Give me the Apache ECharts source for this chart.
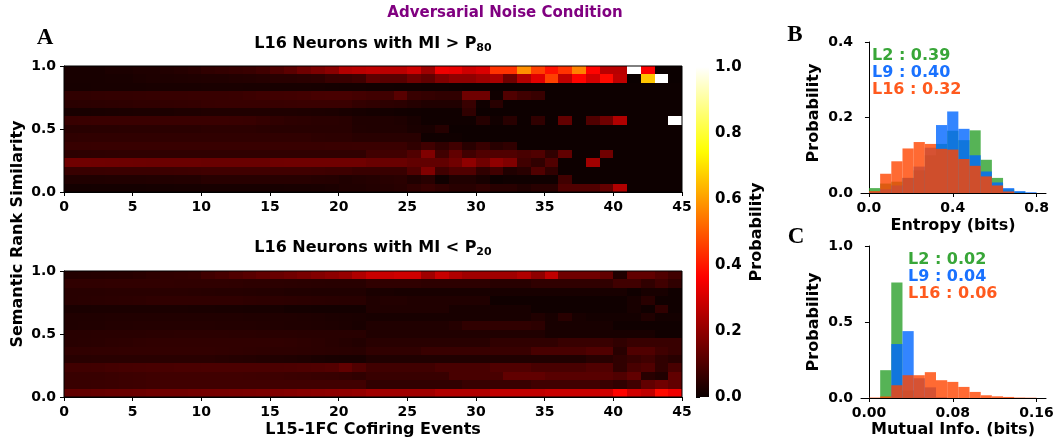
<!DOCTYPE html>
<html><head><meta charset="utf-8">
<script src="https://cdn.jsdelivr.net/npm/echarts@6.0.0/dist/echarts.min.js"></script>
<style>html,body{margin:0;padding:0;background:#fff}#c{width:1058px;height:441px}</style>
</head><body><div id="c"></div>
<script>
// ---------------- DATA ----------------
// Heatmap rows listed from top (similarity ~1.0) to bottom (~0.0); 45 cofiring-event columns (0..44)
const highMI = [
 [.02,.02,.02,.025,.025,.03,.03,.035,.04,.045, .055,.06,.065,.07,.08,.1,.12,.15,.17,.19, .25,.26,.27,.26,.26,.29,.22,.34, .33,.29,.31,.44,.44,.58,.46,.39,.44,.56,.37,.26,.26,1.0,.36,0,0],
 [.02,.02,.02,.022,.022,.025,.028,.028,.03,.032, .033,.034,.037,.038,.042,.045,.045,.048,.052,.068, .07,.078,.125,.115,.115,.15,.128,.175, .2,.2,.22,.24,.15,.25,.32,.46,.27,.37,.3,.38,.27,0,.66,1.0,0],
 [.018,.018,.02,.02,.02,.02,.022,.022,.022,.022, .023,.023,.023,.022,.022,.02,.02,.02,.018,.016, .014,.014,.012,.012,.01,.01,.008,.008, .005,.004,.004,.004,.003,.003,.003,.003,.003,.003,.003,.003,.003,.003,.003,.003,.003],
 [.056,.056,.058,.06,.06,.062,.064,.066,.066,.068, .068,.068,.07,.074,.078,.08,.082,.084,.09,.092, .092,.085,.08,.08,.116,.068,.062,.056, .056,.15,.15,.008,.104,.08,.068,.003,.003,.003,.003,.003,.003,.003,.003,.003,.003],
 [.047,.048,.05,.052,.053,.055,.056,.058,.06,.062, .066,.068,.068,.068,.068,.068,.07,.072,.072,.071, .071,.06,.056,.052,.048,.04,.032,.032, .032,.068,.008,.044,.003,.003,.003,.003,.003,.003,.003,.003,.003,.003,.003,.003,.003],
 [.02,.02,.022,.023,.024,.025,.026,.026,.028,.028, .032,.032,.032,.032,.032,.03,.03,.028,.027,.026, .022,.018,.015,.014,.012,.01,.008,.008, .008,.056,.003,.003,.003,.003,.003,.003,.003,.003,.003,.003,.003,.003,.003,.003,.003],
 [.068,.07,.071,.071,.071,.071,.071,.071,.072,.072, .071,.071,.07,.068,.062,.056,.052,.05,.047,.047, .044,.032,.032,.032,.028,.02,.008,.008, .008,.008,.04,.012,.044,.003,.056,.003,.13,.003,.104,.15,.247,.003,.003,.003,1.0],
 [.044,.044,.045,.046,.047,.047,.047,.047,.047,.047, .05,.05,.05,.05,.047,.044,.044,.044,.044,.044, .044,.034,.032,.032,.032,.023,.02,.04, .003,.003,.003,.003,.003,.003,.003,.003,.003,.003,.003,.003,.003,.003,.003,.003,.003],
 [.054,.055,.056,.056,.056,.056,.056,.056,.056,.056, .056,.056,.056,.056,.056,.056,.055,.055,.052,.05, .05,.044,.044,.044,.044,.044,.008,.008, .008,.003,.003,.003,.003,.003,.003,.003,.003,.003,.003,.003,.003,.003,.003,.003,.003],
 [.066,.067,.068,.068,.068,.068,.068,.068,.068,.068, .068,.068,.068,.068,.068,.068,.068,.068,.068,.07, .07,.071,.071,.071,.071,.056,.08,.056, .08,.044,.068,.044,.056,.003,.003,.003,.003,.003,.003,.003,.003,.003,.003,.003,.003],
 [.05,.052,.053,.054,.055,.056,.056,.056,.056,.056, .056,.056,.056,.056,.056,.056,.056,.056,.056,.056, .056,.056,.08,.08,.08,.104,.175,.08, .128,.08,.104,.104,.104,.092,.104,.056,.128,.003,.003,.151,.003,.003,.003,.003,.003],
 [.151,.151,.15,.149,.147,.146,.145,.145,.144,.144, .142,.142,.142,.142,.142,.15,.151,.151,.151,.151, .151,.151,.142,.142,.142,.128,.128,.128, .151,.199,.151,.199,.175,.08,.056,.104,.003,.003,.223,.003,.003,.003,.003,.003,.003],
 [.068,.068,.07,.071,.071,.071,.072,.074,.075,.077, .08,.08,.08,.08,.08,.08,.08,.08,.078,.076, .075,.068,.068,.068,.068,.104,.175,.08, .104,.104,.056,.08,.032,.044,.104,.056,.003,.003,.003,.003,.003,.003,.003,.003,.003],
 [.032,.032,.032,.033,.034,.034,.035,.035,.036,.036, .044,.044,.044,.044,.044,.044,.044,.044,.042,.04, .032,.036,.04,.044,.047,.032,.044,.008, .032,.032,.02,.003,.008,.008,.008,.008,.08,.003,.003,.003,.003,.003,.003,.003,.003],
 [.014,.014,.015,.015,.016,.016,.017,.017,.018,.018, .02,.02,.02,.02,.02,.02,.022,.022,.023,.026, .032,.032,.036,.04,.044,.056,.068,.056, .044,.044,.056,.044,.044,.032,.044,.044,.104,.104,.104,.13,.247,.003,.003,.003,.003]
];
const lowMI = [
 [.035,.036,.038,.04,.042,.045,.052,.056,.058,.062, .08,.09,.104,.115,.128,.14,.151,.165,.18,.195, .21,.247,.283,.283,.295,.295,.223,.283, .247,.223,.223,.223,.223,.247,.199,.271,.151,.151,.151,.128,.032,.128,.128,.104,.08],
 [.055,.056,.056,.057,.057,.057,.057,.057,.056,.056, .056,.056,.054,.052,.052,.05,.048,.047,.046,.044,.044,.044, .056,.056,.056,.056,.052,.052,.052,.052,.052, .044,.044,.044,.056,.056,.056,.056,.056,.056,.08,.08,.056,.08,.056],
 [.044,.044,.044,.045,.045,.045,.045,.045,.045,.044,.043,.042,.042,.04,.038,.037,.034,.033,.032,.032,.032,.032, .023,.023,.02,.02,.02,.02,.02,.02,.02,.02,.02,.02,.02,.02,.02,.02,.02,.02,.02,.008,.02,.02,.008],
 [.044,.045,.047,.048,.05,.052,.054,.056,.056,.056,.056,.056,.055,.053,.052,.052,.05,.048,.047,.046,.044,.044, .032,.036,.036,.032,.032,.032,.032,.032,.032,.008,.008,.008,.008,.008,.008,.008,.008,.008,.008,.02,.044,.008,.008],
 [.023,.023,.024,.024,.024,.024,.024,.024,.024,.023,.023,.022,.021,.02,.02,.02,.016,.016,.014,.014,.014,.014, .032,.032,.032,.032,.032,.032,.02,.02,.02,.02,.02,.02,.008,.008,.008,.008,.008,.008,.008,.02,.008,.056,.008],
 [.032,.032,.032,.033,.033,.034,.034,.034,.034,.034,.034,.033,.033,.032,.032,.032,.032,.03,.028,.026,.024,.023, .02,.02,.02,.02,.02,.02,.02,.02,.02,.02,.02,.02,.032,.02,.044,.02,.014,.014,.014,.014,.032,.014,.014],
 [.032,.033,.034,.036,.037,.038,.038,.038,.038,.038,.038,.037,.036,.036,.035,.034,.032,.032,.03,.028,.025,.022, .032,.032,.032,.032,.032,.032,.04,.056,.056,.056,.056,.056,.05,.02,.02,.02,.02,.02,.008,.008,.008,.008,.008],
 [.044,.044,.045,.045,.046,.046,.047,.047,.048,.048,.048,.048,.047,.047,.046,.045,.045,.044,.044,.044,.044,.044, .032,.032,.032,.032,.032,.032,.032,.032,.032,.032,.032,.032,.032,.02,.02,.02,.02,.02,.02,.02,.02,.008,.008],
 [.044,.045,.047,.05,.052,.054,.055,.056,.056,.056,.056,.056,.056,.056,.056,.055,.054,.052,.048,.044,.04,.035, .044,.044,.044,.044,.044,.044,.044,.044,.044,.056,.056,.056,.056,.056,.068,.068,.068,.068,.056,.068,.068,.068,.068],
 [.056,.056,.057,.057,.058,.058,.058,.058,.058,.058,.058,.057,.055,.054,.053,.052,.052,.05,.048,.047,.045,.044, .056,.056,.056,.056,.068,.068,.068,.068,.068,.068,.068,.068,.092,.092,.092,.092,.104,.104,.044,.104,.104,.08,.068],
 [.044,.044,.045,.045,.046,.046,.046,.046,.046,.046,.045,.043,.04,.038,.035,.034,.032,.028,.024,.022,.02,.02, .032,.032,.032,.032,.032,.032,.032,.032,.032,.032,.032,.032,.032,.032,.032,.032,.044,.044,.056,.068,.08,.056,.044],
 [.08,.08,.082,.085,.088,.09,.092,.092,.094,.094,.095,.095,.095,.095,.095,.096,.097,.1,.104,.108,.128,.104, .08,.08,.08,.08,.08,.092,.092,.092,.092,.104,.104,.104,.092,.092,.092,.092,.104,.104,.056,.092,.104,.056,.092],
 [.068,.068,.069,.072,.074,.076,.078,.08,.08,.08,.08,.08,.08,.078,.077,.075,.073,.071,.068,.066,.062,.056, .068,.068,.068,.068,.068,.068,.092,.092,.092,.092,.128,.128,.128,.116,.116,.116,.116,.116,.104,.128,.044,.032,.128],
 [.068,.068,.07,.072,.074,.076,.078,.08,.08,.08,.08,.08,.08,.08,.08,.08,.08,.08,.08,.08,.08,.08, .056,.056,.056,.056,.056,.056,.056,.068,.068,.068,.068,.068,.08,.08,.08,.08,.08,.068,.056,.08,.128,.151,.128],
 [.128,.13,.135,.14,.142,.145,.15,.151,.152,.155,.158,.16,.163,.166,.17,.175,.18,.185,.19,.195,.2,.205, .223,.223,.223,.223,.223,.247,.247,.247,.247,.271,.271,.271,.271,.283,.283,.283,.283,.295,.37,.295,.271,.38,.343]
];
const cofiringTicks = [0,5,10,15,20,25,30,35,40,45];
const similarityTicks = [0, 0.5, 1.0];

// Histograms (15 bins)
const entropyEdges = [0,.0533,.1067,.16,.2133,.2667,.32,.3733,.4267,.48,.5333,.5867,.64,.6933,.7467,.8];
const entropyL2  = [.013,.025,.03,.04,.06,.10,.13,.165,.14,.166,.088,.04,.01,.003,0];
const entropyL9  = [.003,.01,.02,.04,.07,.12,.18,.216,.17,.10,.057,.028,.013,.005,.002];
const entropyL16 = [.005,.051,.084,.118,.135,.13,.117,.115,.09,.072,.044,.02,.004,0,0];
const miEdges = [0,.0107,.0213,.032,.0427,.0533,.064,.0747,.0853,.096,.1067,.1173,.128,.1387,.1493,.16];
const miL2  = [0,.183,.76,.05,.007,0,0,0,0,0,0,0,0,0,0];
const miL9  = [0,0,.355,.44,.13,.07,.005,0,0,0,0,0,0,0,0];
const miL16 = [.003,.01,.084,.15,.15,.17,.117,.106,.073,.04,.018,.011,.007,.003,.002];
const entropyTicks = [0, 0.4, 0.8];
const miTicks = [0, 0.08, 0.16];
const entropyMeans = ['L2 : 0.39','L9 : 0.40','L16 : 0.32'];
const miMeans = ['L2 : 0.02','L9 : 0.04','L16 : 0.06'];

// ---------------- STYLE ----------------
const FONT = 'DejaVu Sans';
const GREEN = '#2ca02c', BLUE = '#0066ff', ORANGE = '#ff4500';
const TXT_GREEN = '#38a638', TXT_BLUE = '#1a72ff', TXT_ORANGE = '#ff5a1e';
function hot(t){
  const r = Math.min(1, 0.0416 + 0.9584 * t / 0.365079);
  const g = Math.max(0, Math.min(1, (t - 0.365079) / (0.746032 - 0.365079)));
  const b = Math.max(0, Math.min(1, (t - 0.746032) / (1 - 0.746032)));
  return 'rgb(' + Math.round(r*255) + ',' + Math.round(g*255) + ',' + Math.round(b*255) + ')';
}
const hotColors = [];
for (let i = 0; i <= 100; i++) hotColors.push(hot(i/100));
const hotStops = [];
for (let i = 0; i <= 50; i++) hotStops.push({offset: i/50, color: hot(1 - i/50)});

const NROWS = highMI.length;
function toCells(rows){
  const out = [];
  rows.forEach((row, r) => row.forEach((v, c) => out.push([c, NROWS - 1 - r, v])));
  return out;
}
function toBins(edges, vals){ return vals.map((v,i) => [edges[i], edges[i+1], v]); }

function heatItem(params, api){
  const c = api.value(0), r = api.value(1);
  const p0 = api.coord([c, (r + 1) / NROWS]);
  const p1 = api.coord([c + 1, r / NROWS]);
  const x0 = Math.round(p0[0]), y0 = Math.round(p0[1]);
  const x1 = Math.round(p1[0]), y1 = Math.round(p1[1]);
  const col = api.visual('color');
  return {type:'rect', shape:{x:x0, y:y0, width:x1-x0, height:y1-y0},
          style:{fill:col, stroke:null}};
}
function histItem(color){
  return function(params, api){
    const a = api.coord([api.value(0), api.value(2)]);
    const b = api.coord([api.value(1), 0]);
    return {type:'rect', shape:{x:a[0], y:a[1], width:b[0]-a[0], height:b[1]-a[1]},
            style:{fill:color, opacity:0.8}};
  };
}
const lbl = {fontFamily:FONT, fontWeight:'bold', fontSize:14, color:'#000'};
const line = {show:true, lineStyle:{color:'#000', width:1}};
const tick = {show:true, length:4, lineStyle:{color:'#000', width:1}};

function heatX(gi){ return {type:'value', gridIndex:gi, min:0, max:45, interval:5, axisLine:line, axisTick:tick,
  axisLabel:Object.assign({margin:8}, lbl), splitLine:{show:false}}; }
function heatY(gi){ return {type:'value', gridIndex:gi, min:0, max:1, interval:0.5, axisLine:line, axisTick:tick,
  axisLabel:Object.assign({margin:8, formatter:v=>v.toFixed(1)}, lbl), splitLine:{show:false}}; }

function txt(text, x, y, opts){
  return Object.assign({type:'text', x:x, y:y, silent:true, z:100, style:Object.assign({text:text, fontFamily:FONT, fontWeight:'bold',
    fontSize:16, fill:'#000', align:'center', verticalAlign:'middle', textAlign:'center', textVerticalAlign:'middle'}, opts && opts.style || {})},
    opts && opts.el || {});
}
const subRich = {sub:{fontFamily:FONT, fontWeight:'bold', fontSize:11, fill:'#000', padding:[8,0,0,0]}};

const chart = echarts.init(document.getElementById('c'), null, {renderer:'canvas'});
chart.setOption({
  animation:false,
  backgroundColor:'#fff',
  grid:[
    {left:64, top:66, width:618, height:126, show:true, borderColor:'#000', borderWidth:1, z:3},
    {left:64, top:271, width:618, height:126, show:true, borderColor:'#000', borderWidth:1, z:3},
    {left:696, top:67, width:13, height:330},
    {left:861, top:42, width:185, height:151},
    {left:861, top:246, width:185, height:152}
  ],
  xAxis:[
    heatX(0), heatX(1),
    {type:'value', gridIndex:2, min:0, max:1, show:false},
    {type:'value', gridIndex:3, min:-0.038, max:0.845, axisLine:line,
      axisTick:Object.assign({customValues:entropyTicks}, tick),
      axisLabel:Object.assign({customValues:entropyTicks, margin:8, formatter:v=>v.toFixed(1)}, lbl), splitLine:{show:false}},
    {type:'value', gridIndex:4, min:-0.0076, max:0.169, axisLine:line,
      axisTick:Object.assign({customValues:miTicks}, tick),
      axisLabel:Object.assign({customValues:miTicks, margin:8, formatter:v=>v.toFixed(2)}, lbl), splitLine:{show:false}}
  ],
  yAxis:[
    heatY(0), heatY(1),
    {type:'value', gridIndex:2, position:'right', min:0, max:1, interval:0.2, axisLine:{show:false}, axisTick:tick,
      axisLabel:Object.assign({margin:6, formatter:v=>v.toFixed(1)}, lbl, {fontSize:15}), splitLine:{show:false}},
    {type:'value', gridIndex:3, min:0, max:0.4, interval:0.2, axisLine:line, axisTick:tick,
      axisLabel:Object.assign({margin:8, formatter:v=>v.toFixed(1)}, lbl), splitLine:{show:false}},
    {type:'value', gridIndex:4, min:0, max:1, interval:0.5, axisLine:line, axisTick:tick,
      axisLabel:Object.assign({margin:8, formatter:v=>v.toFixed(1)}, lbl), splitLine:{show:false}}
  ],
  visualMap:{type:'continuous', show:false, min:0, max:1, dimension:2, seriesIndex:[0,1], inRange:{color:hotColors}},
  series:[
    {type:'custom', xAxisIndex:0, yAxisIndex:0, renderItem:heatItem, encode:{x:0, y:1}, data:toCells(highMI)},
    {type:'custom', xAxisIndex:1, yAxisIndex:1, renderItem:heatItem, encode:{x:0, y:1}, data:toCells(lowMI)},
    {type:'custom', xAxisIndex:2, yAxisIndex:2, data:[[0,0]], encode:{x:0,y:1},
      renderItem:function(params, api){
        const p0 = api.coord([0,1]), p1 = api.coord([1,0]);
        return {type:'rect', shape:{x:p0[0], y:p0[1], width:p1[0]-p0[0], height:p1[1]-p0[1]},
          style:{fill:new echarts.graphic.LinearGradient(0,0,0,1,hotStops)}};
      }},
    {type:'custom', xAxisIndex:3, yAxisIndex:3, renderItem:histItem(GREEN), encode:{x:[0,1], y:2}, data:toBins(entropyEdges, entropyL2)},
    {type:'custom', xAxisIndex:3, yAxisIndex:3, renderItem:histItem(BLUE), encode:{x:[0,1], y:2}, data:toBins(entropyEdges, entropyL9)},
    {type:'custom', xAxisIndex:3, yAxisIndex:3, renderItem:histItem(ORANGE), encode:{x:[0,1], y:2}, data:toBins(entropyEdges, entropyL16)},
    {type:'custom', xAxisIndex:4, yAxisIndex:4, renderItem:histItem(GREEN), encode:{x:[0,1], y:2}, data:toBins(miEdges, miL2)},
    {type:'custom', xAxisIndex:4, yAxisIndex:4, renderItem:histItem(BLUE), encode:{x:[0,1], y:2}, data:toBins(miEdges, miL9)},
    {type:'custom', xAxisIndex:4, yAxisIndex:4, renderItem:histItem(ORANGE), encode:{x:[0,1], y:2}, data:toBins(miEdges, miL16)}
  ],
  graphic:[
    txt('Adversarial Noise Condition', 505, 13, {style:{fill:'#800080', fontSize:15}}),
    txt('L16 Neurons with MI > P{sub|80}', 373, 44, {style:{fontSize:16, rich:subRich}}),
    txt('L16 Neurons with MI < P{sub|20}', 373, 248, {style:{fontSize:16, rich:subRich}}),
    txt('A', 45, 38, {style:{fontFamily:'Liberation Serif', fontSize:23}}),
    txt('B', 795, 35, {style:{fontFamily:'Liberation Serif', fontSize:23}}),
    txt('C', 796, 237, {style:{fontFamily:'Liberation Serif', fontSize:23}}),
    txt('Semantic Rank Similarity', 18, 234, {el:{rotation:Math.PI/2}}),
    txt('L15-1FC Cofiring Events', 373, 430),
    txt('Probability', 757, 232, {el:{rotation:Math.PI/2}}),
    txt('Probability', 814, 113, {el:{rotation:Math.PI/2}}),
    txt('Probability', 814, 322, {el:{rotation:Math.PI/2}}),
    txt('Entropy (bits)', 953, 226),
    txt('Mutual Info. (bits)', 953, 430),
    txt(entropyMeans[0], 872, 56, {style:{fill:TXT_GREEN, align:'left', textAlign:'left'}}),
    txt(entropyMeans[1], 872, 73, {style:{fill:TXT_BLUE, align:'left', textAlign:'left'}}),
    txt(entropyMeans[2], 872, 90, {style:{fill:TXT_ORANGE, align:'left', textAlign:'left'}}),
    txt(miMeans[0], 908, 260, {style:{fill:TXT_GREEN, align:'left', textAlign:'left'}}),
    txt(miMeans[1], 908, 277, {style:{fill:TXT_BLUE, align:'left', textAlign:'left'}}),
    txt(miMeans[2], 908, 294, {style:{fill:TXT_ORANGE, align:'left', textAlign:'left'}})
  ]
});
</script></body></html>
